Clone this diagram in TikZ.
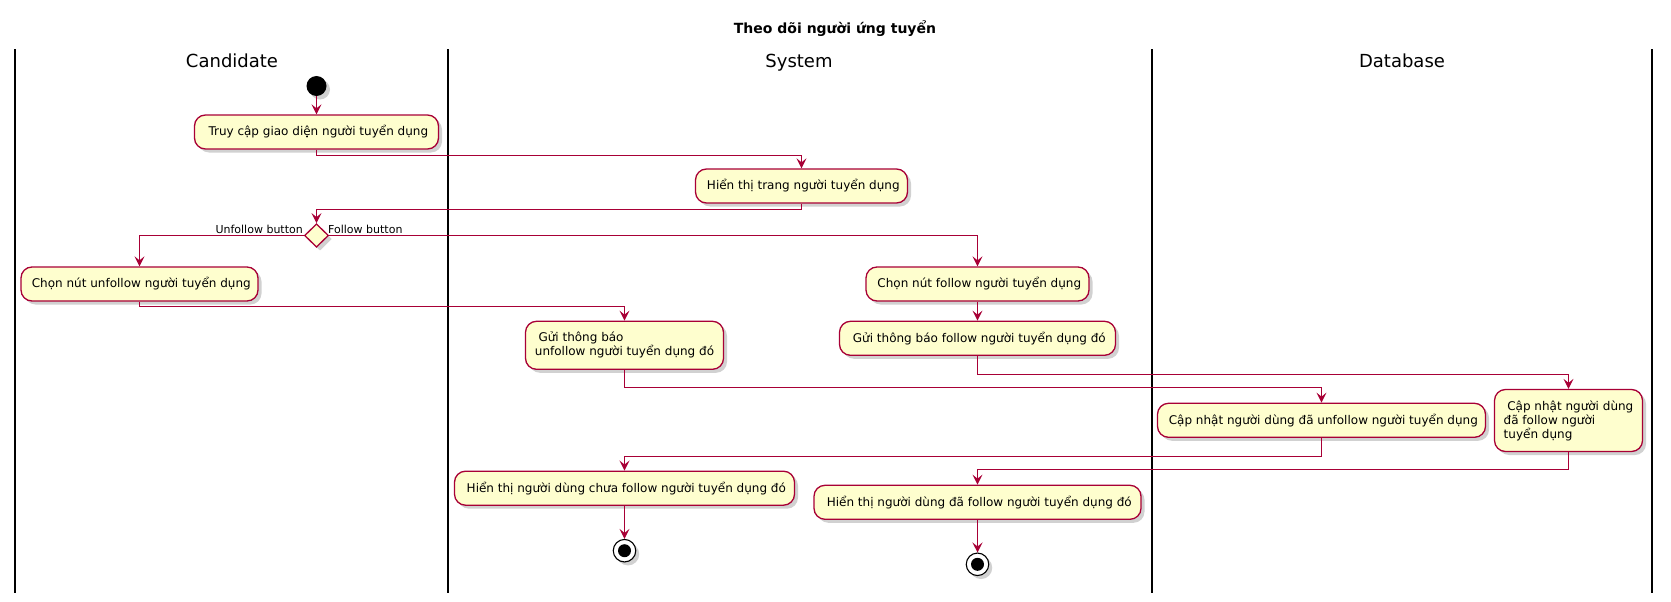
\documentclass[tikz,border=0pt]{standalone}
\usepackage{fontspec}
\setmainfont{DejaVu Sans}
\usetikzlibrary{arrows.meta,shadows,shapes.geometric}
\definecolor{umlred}{HTML}{A80036}
\definecolor{umlfill}{HTML}{FEFECE}
\begin{document}
\begin{tikzpicture}[x=1pt,y=-1pt,
  shadowed/.style={drop shadow={shadow xshift=3.5pt,shadow yshift=-3.5pt,fill=black!45,opacity=0.4}},
  act/.style={draw=umlred, fill=umlfill, line width=1.3pt, rounded corners=11pt,
    font=\fontsize{12}{14}\selectfont, inner sep=0pt, shadowed},
  flow/.style={draw=umlred, line width=1.1pt, -{Stealth[length=10pt,width=10pt,inset=4pt]}},
  lane/.style={line width=1.9pt, black},
  lanetitle/.style={font=\fontsize{18}{20}\selectfont, anchor=base, inner sep=0pt},
  guard/.style={font=\fontsize{11}{13}\selectfont, inner sep=0pt},
  dec/.style={diamond, draw=umlred, fill=umlfill, line width=1.3pt, inner sep=0pt,
    minimum width=24pt, minimum height=23.5pt, shadowed},
  startnode/.style={circle, fill=black, minimum size=20pt, inner sep=0pt, shadowed},
  endouter/.style={circle, draw=black, line width=1.1pt, fill=white, minimum size=22.5pt, inner sep=0pt, shadowed},
  endinner/.style={circle, fill=black, minimum size=13pt, inner sep=0pt}
]
\useasboundingbox (0,0) rectangle (1671,602);
% title
\node[font=\bfseries\fontsize{14}{16}\selectfont, anchor=base, inner sep=0pt] (title) at (835,33.5) {Theo dõi người ứng tuyển};
% lanes
\coordinate (l1t) at (15,49.5);   \coordinate (l1b) at (15,592.7);
\coordinate (l2t) at (448,49.5);  \coordinate (l2b) at (448,592.7);
\coordinate (l3t) at (1152,49.5); \coordinate (l3b) at (1152,592.7);
\coordinate (l4t) at (1652,49.5); \coordinate (l4b) at (1652,592.7);
\draw[lane] (l1t) -- (l1b);
\draw[lane] (l2t) -- (l2b);
\draw[lane] (l3t) -- (l3b);
\draw[lane] (l4t) -- (l4b);
\node[lanetitle] (t1) at (232,68) {Candidate};
\node[lanetitle] (t2) at (799,68) {System};
\node[lanetitle] (t3) at (1402,68) {Database};
% nodes
\node[startnode] (start) at (316.5,86) {};
\node[act, minimum width=244pt, minimum height=34pt] (a1) at (316.5,132) {\hspace*{0.3em}Truy cập giao diện người tuyển dụng};
\node[act, minimum width=212pt, minimum height=34pt] (a2) at (801.5,186) {\hspace*{0.3em}Hiển thị trang người tuyển dụng};
\node[dec] (d) at (316.5,235.5) {};
\node[act, minimum width=237pt, minimum height=34pt] (a3) at (139.5,284) {\hspace*{0.3em}Chọn nút unfollow người tuyển dụng};
\node[act, minimum width=223pt, minimum height=34pt] (a4) at (977.5,284) {\hspace*{0.3em}Chọn nút follow người tuyển dụng};
\node[act, minimum width=198pt, minimum height=48pt, align=left] (a5) at (624.5,345.3) {\hspace*{0.3em}Gửi thông báo\\unfollow người tuyển dụng đó};
\node[act, minimum width=276pt, minimum height=34pt] (a6) at (977.5,338.3) {\hspace*{0.3em}Gửi thông báo follow người tuyển dụng đó};
\node[act, minimum width=328pt, minimum height=34pt] (a7) at (1321.5,420.3) {\hspace*{0.3em}Cập nhật người dùng đã unfollow người tuyển dụng};
\node[act, minimum width=148pt, minimum height=62pt, align=left] (a8) at (1568.5,420.5) {\hspace*{0.3em}Cập nhật người dùng\\đã follow người\\tuyển dụng};
\node[act, minimum width=340pt, minimum height=34pt] (a9) at (624.5,488.2) {\hspace*{0.3em}Hiển thị người dùng chưa follow người tuyển dụng đó};
\node[act, minimum width=327pt, minimum height=34pt] (a10) at (977.5,502.3) {\hspace*{0.3em}Hiển thị người dùng đã follow người tuyển dụng đó};
\node[endouter] (e1) at (624.5,550.7) {};
\node[endinner] (e1i) at (e1) {};
\node[endouter] (e2) at (977.5,564.3) {};
\node[endinner] (e2i) at (e2) {};
% guards
\node[guard, anchor=base east] (g1) at (303,233) {Unfollow button};
\node[guard, anchor=base west] (g2) at (328,233) {Follow button};
% flows
\draw[flow] (start) -- (a1);
\draw[flow] (a1.south) -- ++(0,5.5) -| (a2.north);
\draw[flow] (a2.south) -- ++(0,5.5) -| (d.north);
\draw[flow] (d.west) -| (a3.north);
\draw[flow] (d.east) -| (a4.north);
\draw[flow] (a3.south) -- ++(0,4.5) -| (a5.north);
\draw[flow] (a4) -- (a6);
\draw[flow] (a6.south) -- ++(0,18.2) -| (a8.north);
\draw[flow] (a5.south) -- ++(0,17.2) -| (a7.north);
\draw[flow] (a7.south) -- ++(0,18.2) -| (a9.north);
\draw[flow] (a8.south) -- ++(0,17) -| (a10.north);
\draw[flow] (a9) -- (e1);
\draw[flow] (a10) -- (e2);
\end{tikzpicture}
\end{document}
